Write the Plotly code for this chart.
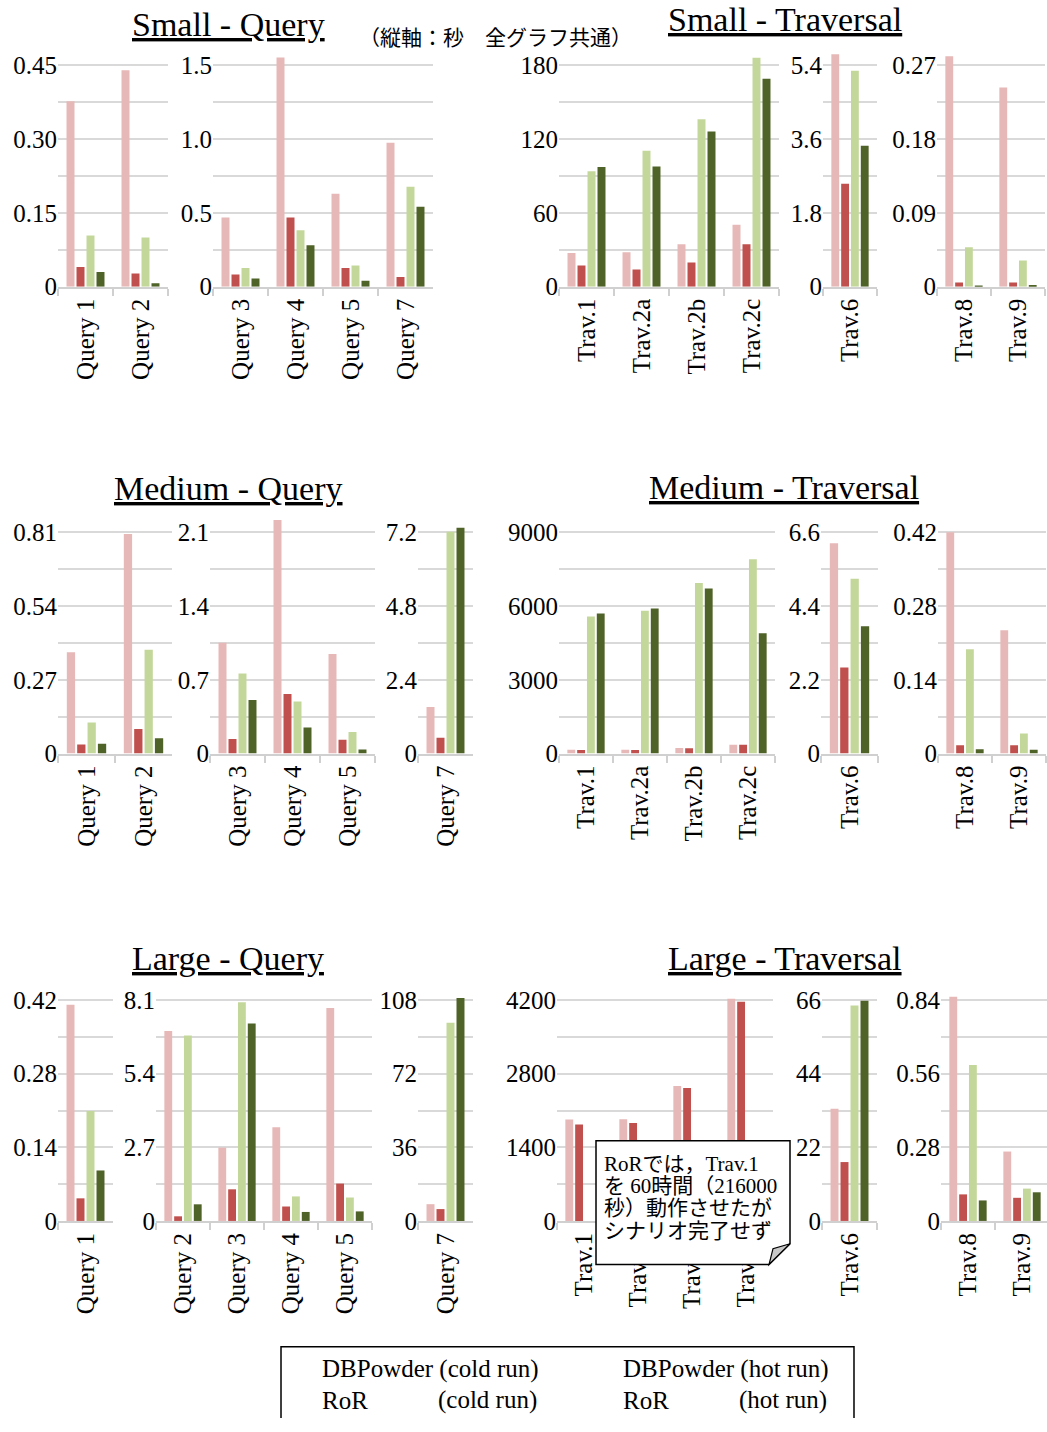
import plotly.graph_objects as go

W, H = 1047, 1432

SERIES_NAMES = ["DBPowder (cold run)", "DBPowder (hot run)", "RoR (cold run)", "RoR (hot run)"]
COLORS = ["#E6B8B7", "#C0504D", "#C4D79B", "#4F6228"]

# ---------------- data (seconds) ----------------
query_cats = ["Query 1", "Query 2", "Query 3", "Query 4", "Query 5", "Query 7"]
trav_cats = ["Trav.1", "Trav.2a", "Trav.2b", "Trav.2c", "Trav.6", "Trav.8", "Trav.9"]

small_q_dbp_cold = [0.377, 0.440, 0.468, 1.554, 0.629, 0.976]
small_q_dbp_hot = [0.040, 0.027, 0.082, 0.468, 0.127, 0.065]
small_q_ror_cold = [0.104, 0.100, 0.127, 0.383, 0.143, 0.678]
small_q_ror_hot = [0.030, 0.007, 0.056, 0.281, 0.040, 0.542]
small_q_ticks = [["0", "0.15", "0.30", "0.45"], ["0", "0.5", "1.0", "1.5"]]

small_t_dbp_cold = [27.4, 28.0, 34.4, 50.3, 5.67, 0.281, 0.243]
small_t_dbp_hot = [17.2, 14.0, 19.6, 34.4, 2.51, 0.005, 0.005]
small_t_ror_cold = [93.9, 110.6, 136.1, 186.2, 5.27, 0.048, 0.032]
small_t_ror_hot = [97.4, 97.7, 126.2, 169.2, 3.44, 0.001, 0.002]
small_t_ticks = [["0", "60", "120", "180"], ["0", "1.8", "3.6", "5.4"], ["0", "0.09", "0.18", "0.27"]]

medium_q_dbp_cold = [0.371, 0.804, 1.052, 2.216, 0.945, 1.515]
medium_q_dbp_hot = [0.033, 0.090, 0.138, 0.565, 0.132, 0.516]
medium_q_ror_cold = [0.114, 0.380, 0.760, 0.493, 0.204, 7.22]
medium_q_ror_hot = [0.036, 0.056, 0.509, 0.248, 0.038, 7.35]
medium_q_ticks = [["0", "0.27", "0.54", "0.81"], ["0", "0.7", "1.4", "2.1"], ["0", "2.4", "4.8", "7.2"]]

medium_t_dbp_cold = [160, 160, 227, 361, 6.27, 0.420, 0.234]
medium_t_dbp_hot = [147, 147, 214, 361, 2.57, 0.016, 0.016]
medium_t_ror_cold = [5576, 5803, 6940, 7902, 5.21, 0.198, 0.038]
medium_t_ror_hot = [5697, 5897, 6712, 4894, 3.80, 0.008, 0.007]
medium_t_ticks = [["0", "3000", "6000", "9000"], ["0", "2.2", "4.4", "6.6"], ["0", "0.14", "0.28", "0.42"]]

large_q_dbp_cold = [0.411, 6.97, 2.69, 3.44, 7.81, 8.2]
large_q_dbp_hot = [0.043, 0.17, 1.16, 0.53, 1.37, 5.8]
large_q_ror_cold = [0.209, 6.80, 8.02, 0.90, 0.86, 96.9]
large_q_ror_hot = [0.096, 0.61, 7.24, 0.33, 0.35, 109.0]
large_q_ticks = [["0", "0.14", "0.28", "0.42"], ["0", "2.7", "5.4", "8.1"], ["0", "36", "72", "108"]]

large_t_dbp_cold = [1930, 1936, 2565, 4225, 33.5, 0.853, 0.264]
large_t_dbp_hot = [1836, 1861, 2527, 4168, 17.6, 0.101, 0.088]
large_t_ror_cold = [None, None, None, None, 64.4, 0.593, 0.123]
large_t_ror_hot = [None, None, None, None, 65.8, 0.078, 0.109]
large_t_ticks = [["0", "1400", "2800", "4200"], ["0", "22", "44", "66"], ["0", "0.28", "0.56", "0.84"]]

titles = ["Small - Query", "Small - Traversal", "Medium - Query",
          "Medium - Traversal", "Large - Query", "Large - Traversal"]
note_text = "（縦軸：秒　全グラフ共通）"
callout_lines = ["RoRでは，Trav.1", "を 60時間（216000", "秒）動作させたが", "シナリオ完了せず"]

# ---------------- layout geometry (pixels) ----------------
groups = [
    dict(cats=query_cats, series=[small_q_dbp_cold, small_q_dbp_hot, small_q_ror_cold, small_q_ror_hot],
         ticks=small_q_ticks, split=[2, 4], x0=[58, 213], cw=[55, 55], y0=289.5, yt=66, title=(228, 25)),
    dict(cats=trav_cats, series=[small_t_dbp_cold, small_t_dbp_hot, small_t_ror_cold, small_t_ror_hot],
         ticks=small_t_ticks, split=[4, 1, 2], x0=[559, 823, 937], cw=[55, 54, 54], y0=289.5, yt=66, title=(785, 20)),
    dict(cats=query_cats, series=[medium_q_dbp_cold, medium_q_dbp_hot, medium_q_ror_cold, medium_q_ror_hot],
         ticks=medium_q_ticks, split=[2, 3, 1], x0=[58, 210, 418], cw=[57, 55, 55], y0=761, yt=537.5, title=(228, 493)),
    dict(cats=trav_cats, series=[medium_t_dbp_cold, medium_t_dbp_hot, medium_t_ror_cold, medium_t_ror_hot],
         ticks=medium_t_ticks, split=[4, 1, 2], x0=[559, 821, 938], cw=[54, 57, 54], y0=761, yt=537.5, title=(784, 492)),
    dict(cats=query_cats, series=[large_q_dbp_cold, large_q_dbp_hot, large_q_ror_cold, large_q_ror_hot],
         ticks=large_q_ticks, split=[1, 4, 1], x0=[58, 156, 418], cw=[55, 54, 55], y0=1233, yt=1010, title=(228, 968)),
    dict(cats=trav_cats, series=[large_t_dbp_cold, large_t_dbp_hot, large_t_ror_cold, large_t_ror_hot],
         ticks=large_t_ticks, split=[4, 1, 2], x0=[557, 822, 941], cw=[54, 55, 54], y0=1233, yt=1010, title=(785, 968)),
]

SERIF = "Liberation Serif, Times New Roman, serif"
MIXED = "Liberation Serif, Noto Sans CJK JP, serif"
AX = "#D0D0D0"
GRID = "#D9D9D9"

fig = go.Figure()
layout_axes = {}
idx = 0
for g in groups:
    start = 0
    for k, n in enumerate(g["split"]):
        idx += 1
        sfx = "" if idx == 1 else str(idx)
        cats = g["cats"][start:start + n]
        x0, cw = g["x0"][k], g["cw"][k]
        x1 = x0 + n * cw
        hi = n - 0.5
        if x1 > W:
            hi = -0.5 + (W - x0) / cw
            x1 = W
        labels = g["ticks"][k]
        vals = [float(t) for t in labels]
        tickvals, ticktext = [], []
        for i, v in enumerate(vals):
            tickvals.append(v)
            ticktext.append(labels[i])
            if i < len(vals) - 1:
                tickvals.append((v + vals[i + 1]) / 2)
                ticktext.append("")
        top_px = g["yt"] - 22
        y_hi = vals[-1] * (g["y0"] - top_px) / (g["y0"] - g["yt"])
        for s, (nm, sv) in enumerate(zip(SERIES_NAMES, g["series"])):
            fig.add_trace(go.Bar(x=cats, y=sv[start:start + n], name=nm, marker_color=COLORS[s],
                                 marker_line_width=0, showlegend=False, legendgroup=nm,
                                 xaxis="x" + sfx, yaxis="y" + sfx))
        layout_axes["xaxis" + sfx] = dict(
            domain=[x0 / W, x1 / W], anchor="y" + sfx, type="category", range=[-0.5, hi],
            tickangle=-90, ticks="outside", tickson="boundaries", ticklen=7, tickwidth=1.5,
            tickcolor=AX, showline=True, linecolor=AX, linewidth=2, showgrid=False,
            tickfont=dict(family=SERIF, size=25, color="black"), fixedrange=True)
        layout_axes["yaxis" + sfx] = dict(
            domain=[1 - g["y0"] / H, 1 - top_px / H], anchor="x" + sfx, range=[0, y_hi],
            tickmode="array", tickvals=tickvals, ticktext=ticktext, showgrid=True,
            gridcolor=GRID, gridwidth=1.5, zeroline=False, showline=False, ticks="",
            tickfont=dict(family=SERIF, size=25, color="black"), fixedrange=True)
        start += n

annotations = []
for g, t in zip(groups, titles):
    cx, cy = g["title"]
    annotations.append(dict(text="<u>" + t + "</u>", x=cx / W, y=1 - cy / H, xref="paper", yref="paper",
                            xanchor="center", yanchor="middle", showarrow=False,
                            font=dict(family=SERIF, size=34, color="black")))
annotations.append(dict(text=note_text, x=495 / W, y=1 - 36 / H, xref="paper", yref="paper",
                        xanchor="center", yanchor="middle", showarrow=False,
                        font=dict(family="Noto Sans CJK JP", size=21, color="black")))
for i, (line, cy) in enumerate(zip(callout_lines, [1175, 1198, 1220, 1243])):
    annotations.append(dict(text=line, x=602 / W, y=1 - cy / H, xref="paper", yref="paper",
                            xanchor="left", yanchor="middle", showarrow=False,
                            font=dict(family=MIXED, size=21, color="black")))

# legend (text only, as in the reference)
leg = [("DBPowder (cold run)", 320, 1383, "left"), ("RoR", 320, 1414, "left"), ("(cold run)", 539, 1414, "right"),
       ("DBPowder (hot run)", 621, 1383, "left"), ("RoR", 621, 1414, "left"), ("(hot run)", 829, 1414, "right")]
for txt, lx, ly, anc in leg:
    annotations.append(dict(text=txt, x=lx / W, y=1 - ly / H, xref="paper", yref="paper",
                            xanchor=anc, yanchor="middle", showarrow=False,
                            font=dict(family=SERIF, size=25, color="black")))


def P(x, y):
    return f"{x / W:.5f},{1 - y / H:.5f}"


bx0, by0, bx1, by1, c = 596, 1152, 790, 1277, 21
shapes = [
    dict(type="path", xref="paper", yref="paper", layer="above",
         path=f"M{P(bx0, by0)} L{P(bx1, by0)} L{P(bx1, by1 - c)} L{P(bx1 - c, by1)} L{P(bx0, by1)} Z",
         fillcolor="white", line=dict(color="black", width=1.5)),
    dict(type="path", xref="paper", yref="paper", layer="above",
         path=f"M{P(bx1 - c, by1)} L{P(bx1, by1 - c)} L{P(bx1 - c + 4, by1 - c + 5)} Z",
         fillcolor="#C8C8C8", line=dict(color="black", width=1.2)),
    # legend frame: open at the bottom (cut off by the picture edge)
    dict(type="path", xref="paper", yref="paper", layer="above",
         path=f"M{P(281, 1432)} L{P(281, 1360)} L{P(854, 1360)} L{P(854, 1432)}",
         line=dict(color="black", width=1.5)),
]

fig.update_layout(
    width=W, height=H, margin=dict(l=0, r=0, t=0, b=0),
    paper_bgcolor="white", plot_bgcolor="white",
    barmode="group", bargap=0.273, bargroupgap=0.2,
    showlegend=False, hovermode=False,
    annotations=annotations, shapes=shapes,
    **layout_axes,
)

post = ("document.body.style.margin='0';document.body.style.overflow='hidden';"
        "var st=document.createElement('style');"
        "st.textContent='text{text-spacing-trim:space-all;}';"
        "document.head.appendChild(st);")
fig.write_html("out.html", include_plotlyjs=True, config={"displayModeBar": False}, post_script=post)
